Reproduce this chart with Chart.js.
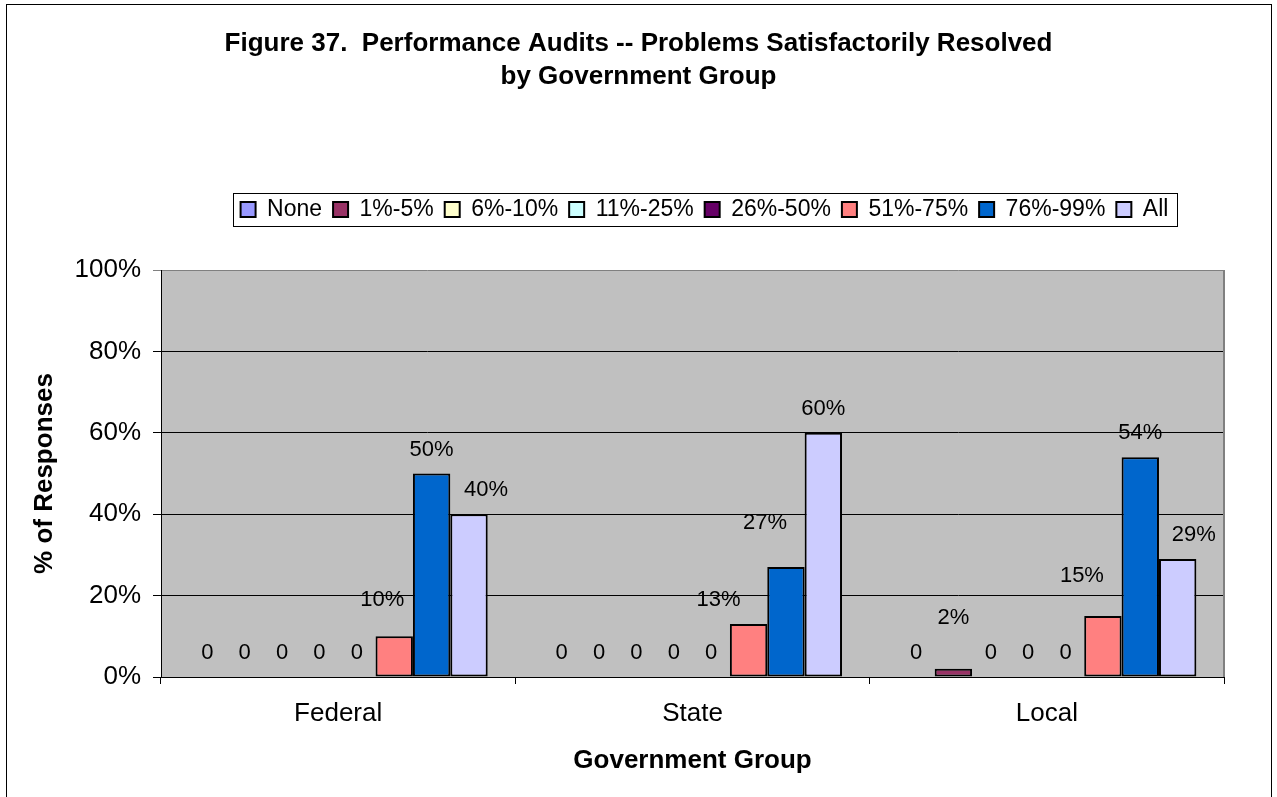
<!DOCTYPE html>
<html>
<head>
<meta charset="utf-8">
<title>Figure 37</title>
<script src="https://cdn.jsdelivr.net/npm/chart.js@4/dist/chart.umd.min.js"></script>
<style>
	html, body { margin: 0; padding: 0; background: #fff; }
	#chart-box { width: 1277px; height: 797px; }
</style>
</head>
<body>
<div id="chart-box"><canvas id="audits-chart" width="1277" height="797"></canvas></div>
<script>
"use strict";

const groups = ["Federal", "State", "Local"];
const seriesNames = ["None", "1%-5%", "6%-10%", "11%-25%", "26%-50%", "51%-75%", "76%-99%", "All"];
const seriesColors = ["#9999FF", "#993366", "#FFFFCC", "#CCFFFF", "#660066", "#FF8080", "#0066CC", "#CCCCFF"];

// % of responses, one array per series (Federal, State, Local)
const noneValues = [0, 0, 0];
const pct1to5 = [0, 0, 2];
const pct6to10 = [0, 0, 0];
const pct11to25 = [0, 0, 0];
const pct26to50 = [0, 0, 0];
const pct51to75 = [10, 13, 15];
const pct76to99 = [50, 27, 54];
const allValues = [40, 60, 29];

const yTicks = [0, 20, 40, 60, 80, 100];

const FONT = "Arial, 'Liberation Sans', sans-serif";

const plotBackground = {
	id: "plotBackground",
	beforeDraw(chart){
		const {ctx, chartArea: a} = chart;
		ctx.save();
		ctx.fillStyle = "#C0C0C0";
		ctx.fillRect(a.left, a.top, a.right - a.left, a.bottom - a.top);
		ctx.restore();
	},
	beforeDatasetsDraw(chart){
		const {ctx, chartArea: a} = chart;
		ctx.save();
		ctx.strokeStyle = "#808080";
		ctx.lineWidth = 2;
		ctx.beginPath();
		ctx.moveTo(a.right, a.top);
		ctx.lineTo(a.right, a.bottom);
		ctx.stroke();
		ctx.restore();
	}
};

const valueLabels = {
	id: "valueLabels",
	afterDatasetsDraw(chart, args, opts){
		const ctx = chart.ctx;
		ctx.save();
		ctx.font = "22px " + FONT;
		ctx.fillStyle = "#000";
		ctx.textAlign = "center";
		ctx.textBaseline = "middle";
		chart.data.datasets.forEach((ds, i) => {
			chart.getDatasetMeta(i).data.forEach((bar, j) => {
				const v = ds.data[j];
				const nudge = (opts.nudges && opts.nudges[i + ":" + j]) || [0, 0];
				ctx.fillText(v === 0 ? "0" : v + "%", bar.x + nudge[0], bar.y - 24 + nudge[1]);
			});
		});
		ctx.restore();
	}
};

const frames = {
	id: "frames",
	afterLayout(chart){
		// the legend sits a little right of the plot centre
		chart.legend.left += 12;
		chart.legend.right += 12;
	},
	afterDraw(chart){
		const ctx = chart.ctx;
		ctx.save();
		ctx.strokeStyle = "#000";
		ctx.lineWidth = 1;

		// outer chart border
		ctx.strokeRect(6.5, 4.5, 1265, 820);

		// box round the legend
		const boxes = chart.legend.legendHitBoxes;
		if (boxes.length){
			const left = Math.min(...boxes.map(b => b.left)) - 8;
			const right = Math.max(...boxes.map(b => b.left + b.width)) + 8;
			const mid = boxes[0].top + boxes[0].height / 2;
			ctx.strokeRect(Math.round(left) + 0.5, Math.round(mid - 17) + 0.5, Math.round(right - left), 33);
		}
		ctx.restore();
	}
};

drawChart();

function drawChart(){
	Chart.defaults.color = "#000";
	Chart.defaults.font.family = FONT;

	const seriesValues = [noneValues, pct1to5, pct6to10, pct11to25, pct26to50, pct51to75, pct76to99, allValues];
	const ctx = document.querySelector("#audits-chart").getContext("2d");

	new Chart(ctx, {
		type: "bar",
		data: {
			labels: groups,
			datasets: seriesNames.map((name, i) => ({
				label: name,
				data: seriesValues[i],
				backgroundColor: seriesColors[i],
				borderColor: "#000",
				borderWidth: 2,
				borderSkipped: false,
				categoryPercentage: 0.844,
				barPercentage: 1
			}))
		},
		options: {
			responsive: false,
			animation: false,
			layout: {
				padding: { top: 10, right: 0, bottom: 0, left: 0 }
			},
			scales: {
				x: {
					afterFit: scale => { scale.height = 120; },
					grid: {
						drawOnChartArea: false,
						tickLength: 7,
						color: "#000"
					},
					border: { color: "#000", width: 1 },
					ticks: {
						font: { size: 26 },
						padding: 14
					},
					title: {
						display: true,
						text: "Government Group",
						font: { size: 26, weight: "bold" },
						padding: { top: 0, bottom: 21 }
					}
				},
				y: {
					min: 0,
					max: 100,
					afterFit: scale => { scale.width = 161; },
					afterBuildTicks: scale => { scale.ticks = yTicks.map(v => ({ value: v })); },
					grid: {
						tickLength: 8,
						color: c => c.tick && c.tick.value === 100 ? "#808080" : "#000"
					},
					border: { color: "#000", width: 1 },
					ticks: {
						font: { size: 26 },
						padding: 12,
						callback: v => v + "%"
					},
					title: {
						display: true,
						text: "% of Responses",
						font: { size: 26, weight: "bold" },
						padding: { top: 29, bottom: 0 }
					}
				},
				// empty margin on the right so the title centres on the whole page
				rightMargin: {
					type: "linear",
					position: "right",
					afterFit: scale => { scale.width = 53; },
					grid: { display: false },
					border: { display: false },
					ticks: { display: false }
				}
			},
			plugins: {
				title: {
					display: true,
					text: ["Figure 37.  Performance Audits -- Problems Satisfactorily Resolved", "by Government Group"],
					font: { size: 26, weight: "bold", lineHeight: 1.27 },
					padding: { top: 17, bottom: 94 }
				},
				subtitle: {
					// empty spacer between legend and plot
					display: true,
					text: "",
					weight: 500,
					font: { size: 10, lineHeight: 1 },
					padding: { top: 29, bottom: 0 }
				},
				legend: {
					fullSize: false,
					labels: {
						boxWidth: 15,
						boxHeight: 15,
						padding: 11,
						font: { size: 23 }
					}
				},
				tooltip: { enabled: false },
				valueLabels: {
					// label nudges [dx, dy] keyed "series:group", like the Excel placement
					nudges: {
						"5:0": [-12, -12],
						"7:0": [17, 0],
						"5:1": [-30, 0],
						"6:1": [-21, -20],
						"1:2": [0, -27],
						"5:2": [-21, -16],
						"7:2": [16, 0]
					}
				}
			}
		},
		plugins: [plotBackground, valueLabels, frames]
	});
}
</script>
</body>
</html>
